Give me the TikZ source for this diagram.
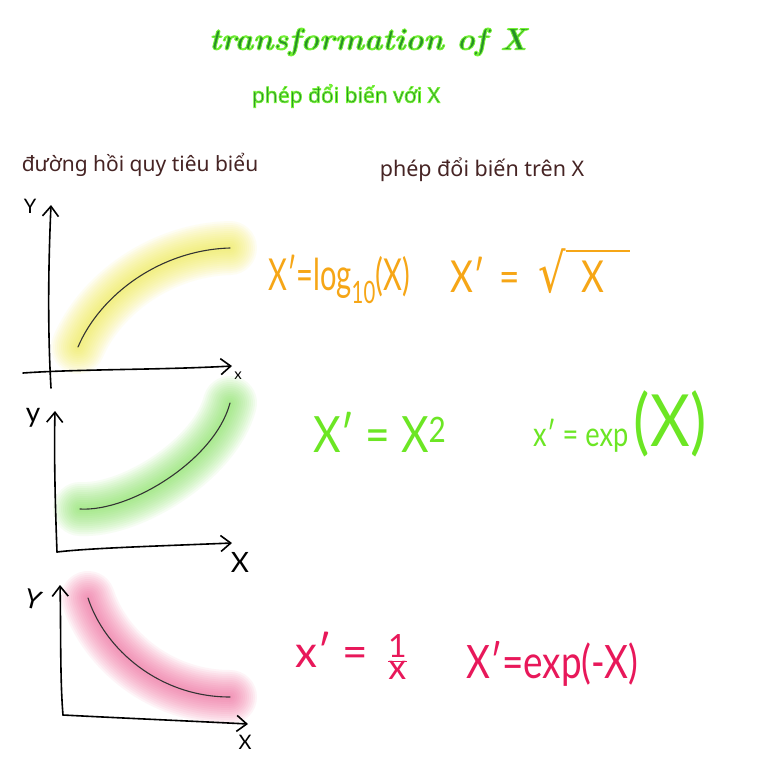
\documentclass[tikz,border=0pt]{standalone}
\usepackage{fontspec}
\newfontfamily\handfont{Lato}
\newfontfamily\headfont{Noto Sans}
\newfontfamily\symfont{DejaVu Sans}
\usetikzlibrary{arrows.meta}

\definecolor{titlegreen}{RGB}{40,145,40}
\definecolor{headbrown}{RGB}{70,36,36}
\definecolor{fmorange}{RGB}{246,166,22}
\definecolor{fmgreen}{RGB}{108,230,36}
\definecolor{fmpink}{RGB}{232,24,90}
\definecolor{glowyellow}{RGB}{240,235,60}
\definecolor{glowgreen}{RGB}{120,225,80}
\definecolor{glowpink}{RGB}{240,90,145}

% green text with a bright green rim (fill + stroke render mode)
\newcommand{\rimtext}[2]{\textcolor{titlegreen}{%
  \special{pdf:literal direct 2 Tr #1 w 0.45 0.95 0.2 RG}#2\special{pdf:literal direct 0 Tr}}}

% soft halo under a fitted curve: #1 colour, #2 path
\newcommand{\glowpath}[2]{%
  \foreach \w in {54,50,...,6} {
    \draw[#1, line width=\w pt, opacity=0.065, line cap=round] #2;
  }
}

\begin{document}
\begin{tikzpicture}[x=1pt, y=-1pt,
  axis/.style    = {line width=1.6pt, line cap=round, line join=round},
  tip/.style     = {-{Straight Barb[length=10pt, width=16pt, line width=1.6pt]}},
  fitline/.style = {line width=1.1pt, draw=black!80, line cap=round},
  lbl/.style     = {font=\handfont\fontsize{20}{20}\selectfont, inner sep=0pt},
  head/.style    = {font=\headfont\fontsize{21}{21}\selectfont, text=headbrown},
  formula/.style = {anchor=base west, inner sep=0pt}
]
\fill[white] (0,0) rectangle (768,768);
\useasboundingbox (0,0) rectangle (768,768);

% ,  Titles ,
\node[font=\bfseries\itshape\fontsize{31}{31}\selectfont] (title) at (368,42)
      {\rimtext{0.9}{transformation of X}};
\node[font=\headfont\bfseries\fontsize{21}{21}\selectfont] (subtitle) at (346,96)
      {\rimtext{0.8}{phép đổi biến với X}};
\node[head] (lefthead)  at (140,165) {đường hồi quy tiêu biểu};
\node[head, font=\headfont\fontsize{21.5}{21.5}\selectfont] (righthead) at (482,170) {phép đổi biến trên X};

% ,  Plot 1: concave (log / sqrt) ,
\glowpath{glowyellow}{(78,347) .. controls (100,295) and (160,250) .. (230,248)}
\draw[fitline] (78,347) .. controls (100,295) and (160,250) .. (230,248);
\draw[axis, tip] (51,388) .. controls (47,320) and (49,250) .. (51,205);
\draw[axis, tip] (23,373) .. controls (80,369) and (160,370) .. (232,366);
\node[lbl] (ya) at (30,206) {Y};
\node[lbl, font=\handfont\fontsize{15}{15}\selectfont] (xa) at (238,376) {x};

% ,  Plot 2: convex (square / exp) ,
\glowpath{glowgreen}{(80,509) .. controls (130,512) and (215,460) .. (230,403)}
\draw[fitline] (80,509) .. controls (130,512) and (215,460) .. (230,403);
\draw[axis, tip] (57,552) .. controls (55,500) and (54,450) .. (55,411);
\draw[axis, tip] (57,552) .. controls (90,548) and (160,546) .. (232,543);
\node[lbl, font=\handfont\fontsize{28}{28}\selectfont] (yb) at (33,418) {y};
\node[lbl, font=\handfont\fontsize{28}{28}\selectfont] (xb) at (240,562) {X};

% ,  Plot 3: decreasing (reciprocal / exp(-x)) ,
\glowpath{glowpink}{(88,598) .. controls (105,650) and (160,697) .. (230,697)}
\draw[fitline] (88,598) .. controls (105,650) and (160,697) .. (230,697);
\draw[axis, tip] (63,715) .. controls (60,680) and (61,630) .. (60,585);
\draw[axis, tip] (63,715) .. controls (120,718) and (190,721) .. (248,724);
\node[lbl, font=\handfont\fontsize{26}{26}\selectfont, rotate=-15] (yc) at (33,600) {Y};
\node[lbl] (xc) at (245,742) {X};

% ,  Transformations ,
\node[formula, text=fmorange, font=\handfont\fontsize{44}{44}\selectfont] (logx) at (268,290)
      {\scalebox{0.66}[1]{X′=log\textsubscript{10}(X)}};
\node[formula, text=fmorange, font=\handfont\fontsize{44}{44}\selectfont] (sqrtx) at (450,292)
      {\scalebox{0.8}[1]{X′\, = \;{\symfont\fontsize{54}{54}\selectfont √}\rlap{\rule[40pt]{80pt}{2pt}}\;\,X}};
\node[formula, text=fmgreen, font=\handfont\fontsize{50}{50}\selectfont] (sqx) at (313,452)
      {\scalebox{0.85}[1]{X′ = X\textsuperscript{2}}};
\node[formula, text=fmgreen, font=\handfont\fontsize{34}{34}\selectfont] (expx) at (533,446)
      {\scalebox{0.8}[1]{x′ = exp}\,\fontsize{72}{72}\selectfont\scalebox{0.85}[1]{(X)}};
\node[formula, text=fmpink, font=\handfont\fontsize{44}{44}\selectfont] (invx) at (295,667)
      {x′ = \,$\frac{\mbox{\fontsize{32}{32}\selectfont 1}}{\mbox{\fontsize{36}{36}\selectfont x}}$};
\node[formula, text=fmpink, font=\handfont\fontsize{46}{46}\selectfont] (expnx) at (466,678)
      {\scalebox{0.8}[1]{X′=exp(-X)}};

\end{tikzpicture}
\end{document}
